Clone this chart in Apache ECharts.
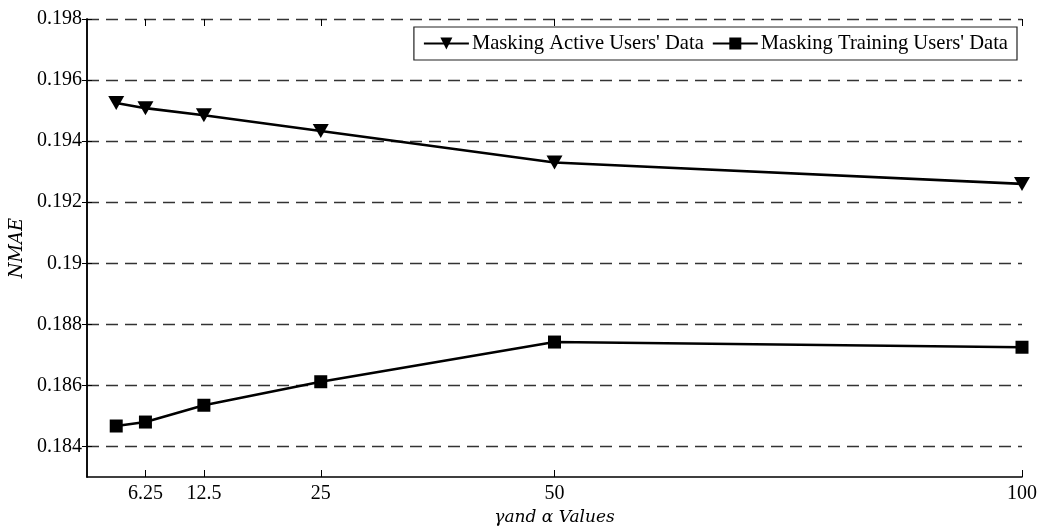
<!DOCTYPE html>
<html>
<head>
<meta charset="utf-8">
<script src="https://cdn.jsdelivr.net/npm/echarts@6/dist/echarts.min.js"></script>
<style>
html,body{margin:0;padding:0;background:#fff;}
#c{width:1043px;height:529px;}
</style>
</head>
<body>
<div id="c"></div>
<script>
const xValues = [3.125, 6.25, 12.5, 25, 50, 100];
const activeMasked = [0.19525, 0.19508, 0.19485, 0.19433, 0.19330, 0.19260];
const trainingMasked = [0.18467, 0.18480, 0.18535, 0.18612, 0.18742, 0.18725];
const xTicks = [6.25, 12.5, 25, 50, 100];
const yTicks = [0.184, 0.186, 0.188, 0.19, 0.192, 0.194, 0.196, 0.198];
const seriesNames = ["Masking Active Users' Data", "Masking Training Users' Data"];

const font = 'Liberation Serif';
const nameFont = 'DejaVu Serif';
const chart = echarts.init(document.getElementById('c'));
const pairs = arr => xValues.map((x, i) => [x, arr[i]]);

chart.setOption({
  animation: false,
  backgroundColor: '#fff',
  grid: { left: 87, right: 21, top: 19, bottom: 52, show: false, outerBoundsMode: 'none', containLabel: false },
  legend: {
    right: 26, top: 27,
    orient: 'horizontal',
    backgroundColor: '#fff',
    borderColor: '#222', borderWidth: 1.2, borderRadius: 0,
    padding: [6, 9, 6, 9],
    itemGap: 8,
    itemWidth: 45, itemHeight: 15,
    textStyle: { fontFamily: font, fontSize: 20.6, color: '#000', padding: [0, 0, 0, -2] },
    data: seriesNames
  },
  xAxis: [{
    type: 'value', min: 0, max: 100,
    name: 'γand α Values', nameLocation: 'middle', nameGap: 32,
    nameTextStyle: { fontFamily: nameFont, fontStyle: 'italic', fontSize: 17, color: '#000' },
    axisLine: { show: true, lineStyle: { color: '#000', width: 1.5 } },
    axisTick: { show: true, inside: true, length: 7, customValues: xTicks, lineStyle: { color: '#000' } },
    axisLabel: { customValues: xTicks, fontFamily: font, fontSize: 20, color: '#000', margin: 7 },
    splitLine: { show: false }
  }, {
    type: 'value', min: 0, max: 100, position: 'top',
    axisLine: { show: false },
    axisTick: { show: true, inside: true, length: 7, customValues: xTicks, lineStyle: { color: '#000' } },
    axisLabel: { show: false, customValues: xTicks },
    splitLine: { show: false }
  }],
  yAxis: [{
    type: 'value', min: 0.183, max: 0.198,
    name: 'NMAE', nameLocation: 'middle', nameGap: 57,
    nameTextStyle: { fontFamily: nameFont, fontStyle: 'italic', fontSize: 18, color: '#000' },
    axisLine: { show: true, lineStyle: { color: '#000', width: 1.5 } },
    axisTick: { show: true, inside: true, length: 5, customValues: yTicks, lineStyle: { color: '#000' } },
    axisLabel: { customValues: yTicks, fontFamily: font, fontSize: 20, color: '#000', margin: 5 },
    splitLine: { show: true, lineStyle: { color: '#333', type: [12, 7], width: 1.3 } }
  }, {
    type: 'value', min: 0.183, max: 0.198, position: 'right',
    axisLine: { show: true, lineStyle: { color: '#000', width: 1.5 } },
    axisTick: { show: true, inside: true, length: 5, customValues: yTicks, lineStyle: { color: '#000' } },
    axisLabel: { show: false, customValues: yTicks },
    splitLine: { show: false }
  }],
  series: [{
    name: seriesNames[0], type: 'line',
    data: pairs(activeMasked),
    symbol: 'triangle', symbolRotate: 180, symbolSize: [16, 14],
    showAllSymbol: true,
    lineStyle: { color: '#000', width: 2.6 },
    itemStyle: { color: '#000' }
  }, {
    name: seriesNames[1], type: 'line',
    data: pairs(trainingMasked),
    symbol: 'rect', symbolSize: 13,
    showAllSymbol: true,
    lineStyle: { color: '#000', width: 2.6 },
    itemStyle: { color: '#000' }
  }]
});
</script>
</body>
</html>
